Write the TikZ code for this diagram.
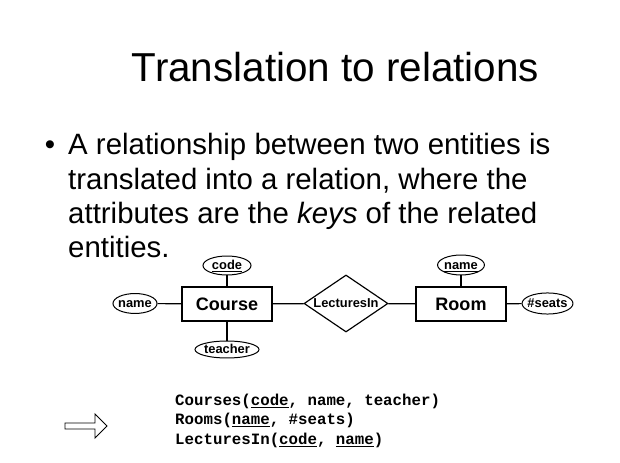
\documentclass[tikz,border=0pt]{standalone}
\usepackage{fontspec}
\setmainfont{Liberation Sans}
\setmonofont{Liberation Mono}
\usetikzlibrary{shapes.geometric}

\begin{document}
\begin{tikzpicture}[x=0.8536pt,y=-0.8536pt,
  txt/.style={anchor=base west, inner sep=0pt},
  entity/.style={draw, line width=1.7pt, inner sep=0pt, minimum width=76pt, minimum height=29pt,
                 font=\bfseries\fontsize{15.4}{18}\selectfont},
  attr/.style={draw, ellipse, line width=0.85pt, inner xsep=-3.5pt, inner ysep=0pt,
               text height=1.5ex, text depth=0.1ex,
               font=\bfseries\fontsize{11}{13}\selectfont},
  rel/.style={draw, diamond, line width=1pt, inner sep=0pt, minimum width=71.7pt, minimum height=48.7pt},
  link/.style={line width=1pt},
  relline/.style={txt, font=\ttfamily\bfseries\fontsize{13.45}{16}\selectfont}]
  \fill[white] (0,0) rectangle (620,463);
  \useasboundingbox (0,0) rectangle (620,463);

  % Title
  \node[anchor=base, inner sep=0pt, font=\fontsize{34.5}{40}\selectfont] (title) at (335.5,82) {Translation to relations};

  % Bullet text
  \node[anchor=base, inner sep=0pt, font=\fontsize{25.1}{29}\selectfont] (bullet) at (50,155) {\textbullet};
  \node[txt, font=\fontsize{25.1}{29}\selectfont] (line1) at (68,155) {A relationship between two entities is};
  \node[txt, font=\fontsize{25.1}{29}\selectfont] (line2) at (68,189.3) {translated into a relation, where the};
  \node[txt, font=\fontsize{25.1}{29}\selectfont] (line3) at (68,223.6) {attributes are the \textit{keys} of the related};
  \node[txt, font=\fontsize{25.1}{29}\selectfont] (line4) at (68,258) {entities.};

  % ER diagram
  \node[entity] (course) at (227,304) {Course};
  \node[entity] (room) at (461,304) {Room};
  \node[rel, label={[font=\bfseries\fontsize{11}{13}\selectfont]center:LecturesIn}] (lecturesin) at (346,303.5) {};

  \node[attr, minimum width=41pt, minimum height=16.2pt] (code) at (227,265.5) {\underline{code}};
  \node[attr, minimum width=37.6pt, minimum height=17pt] (cname) at (135,303.5) {name};
  \node[attr, minimum width=54.6pt, minimum height=14.5pt] (teacher) at (227,349.5) {teacher};
  \node[attr, minimum width=40pt, minimum height=17pt] (rname) at (461,265) {\underline{name}};
  \node[attr, minimum width=43.5pt, minimum height=18pt] (seats) at (547.5,303.5) {\#seats};

  \draw[link] (code) -- (course);
  \draw[link] (teacher) -- (course);
  \draw[link] (cname) -- (course);
  \draw[link] (course) -- (lecturesin);
  \draw[link] (lecturesin) -- (room);
  \draw[link] (rname) -- (room);
  \draw[link] (seats) -- (room);

  % hollow arrow
  \draw[line width=0.8pt] (65,423) -- (95,423) -- (95,414) -- (107,426) -- (95,438) -- (95,429) -- (65,429) -- cycle;

  % Relations
  \node[relline] (courses) at (175,405) {Courses(\underline{code}, name, teacher)};
  \node[relline] (rooms) at (175,424.5) {Rooms(\underline{name}, \#seats)};
  \node[relline] (lectures) at (175,444) {LecturesIn(\underline{code}, \underline{name})};
\end{tikzpicture}
\end{document}
